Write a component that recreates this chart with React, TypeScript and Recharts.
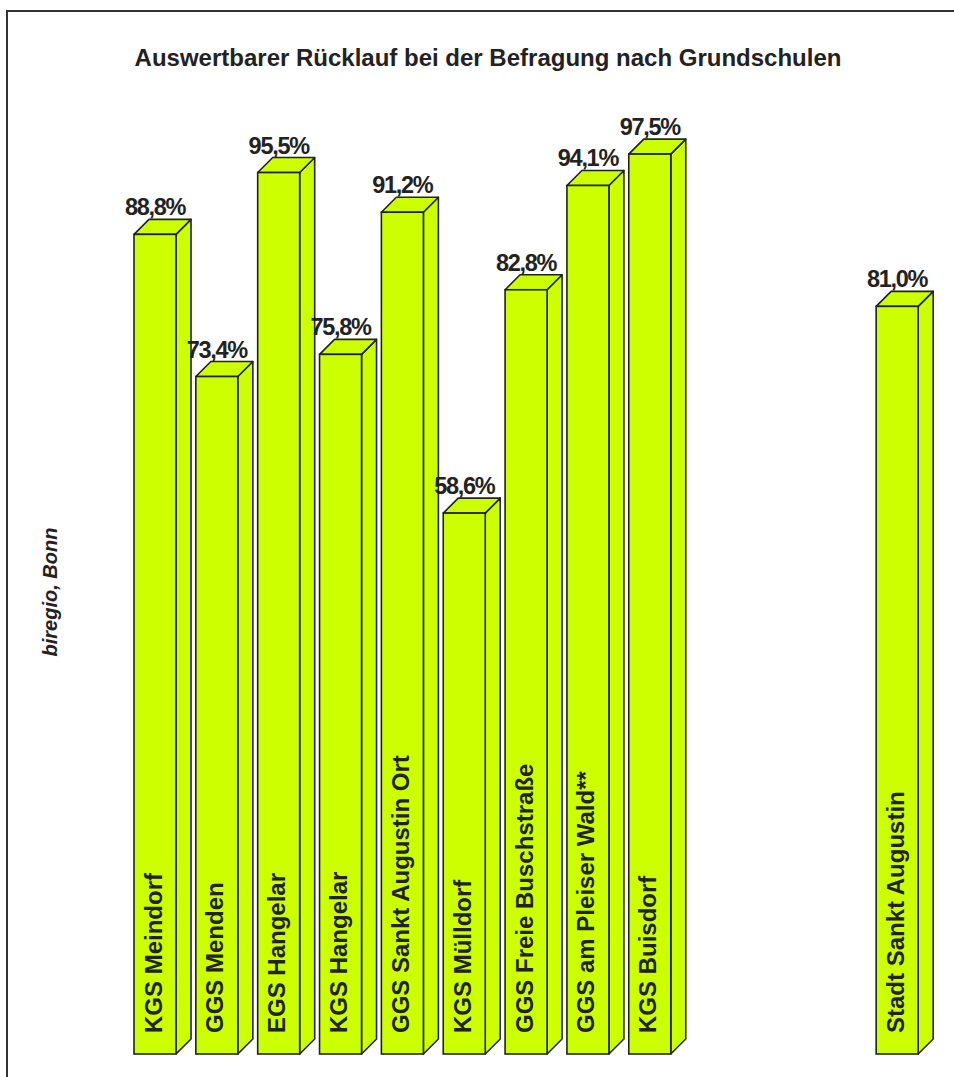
import React from "react";
import { BarChart, Bar, XAxis, YAxis, LabelList } from "recharts";

const categories: string[] = [
  "KGS Meindorf",
  "GGS Menden",
  "EGS Hangelar",
  "KGS Hangelar",
  "GGS Sankt Augustin Ort",
  "KGS Mülldorf",
  "GGS Freie Buschstraße",
  "GGS am Pleiser Wald**",
  "KGS Buisdorf",
  "",
  "",
  "",
  "Stadt Sankt Augustin",
];

const values: (number | null)[] = [88.8, 73.4, 95.5, 75.8, 91.2, 58.6, 82.8, 94.1, 97.5, null, null, null, 81.0];

const title = "Auswertbarer Rücklauf bei der Befragung nach Grundschulen";
const source = "biregio, Bonn";

const data = categories.map((name, i) => ({ key: `c${i}`, name, value: values[i] }));

const W = 954;
const H = 1077;
const DEPTH = 15;
const FILL = "#CCFF00";
const STROKE = "#222222";
const FONT = "'Liberation Sans', Arial, sans-serif";

const Bar3D = (props: any) => {
  const { x, y, width, height } = props;
  if (x == null || y == null || !height) return null;
  const d = DEPTH;
  const top = `${x},${y} ${x + d},${y - d} ${x + width + d},${y - d} ${x + width},${y}`;
  const side = `${x + width},${y} ${x + width + d},${y - d} ${x + width + d},${y + height - d} ${x + width},${y + height}`;
  return (
    <g>
      <polygon points={side} fill={FILL} stroke={STROKE} strokeWidth={1.6} strokeLinejoin="round" />
      <polygon points={top} fill={FILL} stroke={STROKE} strokeWidth={1.6} strokeLinejoin="round" />
      <rect x={x} y={y} width={width} height={height} fill={FILL} stroke={STROKE} strokeWidth={1.6} />
    </g>
  );
};

const ValueLabel = (props: any) => {
  const { x, y, width, value } = props;
  if (value == null || x == null) return null;
  const txt = Number(value).toFixed(1).replace(".", ",") + "%";
  return (
    <text
      x={x + width / 2}
      y={y - DEPTH - 4}
      textAnchor="middle"
      fontFamily={FONT}
      fontWeight="bold"
      fontSize={23.5}
      letterSpacing={-1.3}
      fill={STROKE}
    >
      {txt}
    </text>
  );
};

const NameLabel = (props: any) => {
  const { x, y, width, height, value } = props;
  if (!value || x == null) return null;
  const cx = x + width / 2 - 2;
  const by = y + height - 21;
  return (
    <text
      x={cx}
      y={by}
      transform={`rotate(-90 ${cx} ${by})`}
      textAnchor="start"
      dominantBaseline="central"
      fontFamily={FONT}
      fontWeight="bold"
      fontSize={24}
      fill={STROKE}
    >
      {value}
    </text>
  );
};

export default function App() {
  return (
    <div style={{ position: "absolute", left: 0, top: 0, width: W, height: H, background: "#fff" }}>
      <BarChart
        width={W}
        height={H}
        data={data}
        margin={{ top: 131, right: 26, bottom: 23, left: 124 }}
        barCategoryGap={0}
      >
        <XAxis dataKey="key" hide />
        <YAxis domain={[0, 100]} hide />
        <Bar dataKey="value" barSize={42} shape={<Bar3D />} isAnimationActive={false}>
          <LabelList dataKey="value" content={<ValueLabel />} />
          <LabelList dataKey="name" content={<NameLabel />} />
        </Bar>
      </BarChart>
      <svg width={W} height={H} style={{ position: "absolute", left: 0, top: 0, pointerEvents: "none" }}>
        <path d={`M 7 ${H} L 7 11 L ${W} 11`} fill="none" stroke="#333" strokeWidth={2} />
        <text x={488} y={66} textAnchor="middle" fontFamily={FONT} fontWeight="bold" fontSize={24} fill={STROKE}>
          {title}
        </text>
        <text
          x={50}
          y={592}
          transform="rotate(-90 50 592)"
          textAnchor="middle"
          dominantBaseline="central"
          fontFamily={FONT}
          fontWeight="bold"
          fontStyle="italic"
          fontSize={20}
          fill={STROKE}
        >
          {source}
        </text>
      </svg>
    </div>
  );
}
